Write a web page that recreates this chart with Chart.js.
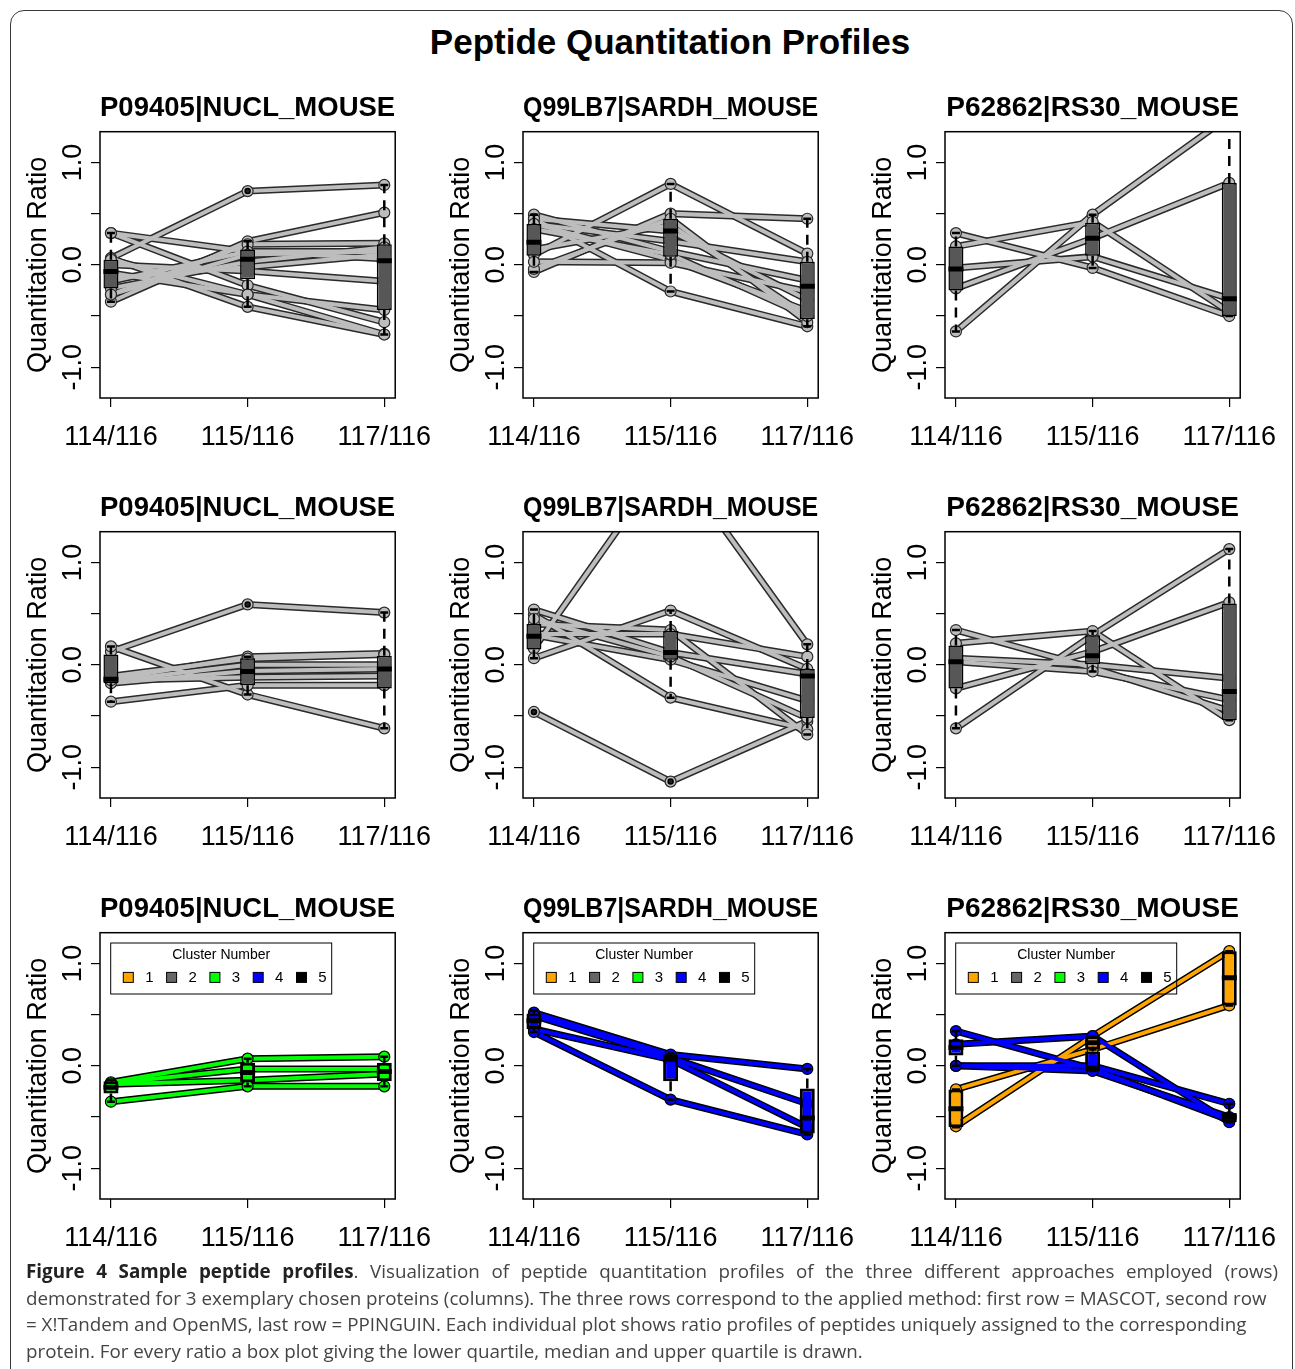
<!DOCTYPE html>
<html>
<head>
<meta charset="utf-8">
<script src="https://cdn.jsdelivr.net/npm/chart.js@4.4.0/dist/chart.umd.min.js"></script>
<style>
  body { margin: 0; background: #fff; width: 1295px; height: 1369px; position: relative; overflow: hidden;
         font-family: "Liberation Sans", Arial, sans-serif; }
  #frame { position: absolute; left: 10px; top: 10px; width: 1281px; height: 1372px;
           border: 1.5px solid #3a3a3a; border-radius: 14px; }
  #title { position: absolute; left: 0; width: 1340px; top: 22px; line-height: 40px;
           text-align: center; font-weight: bold; font-size: 35px; color: #000; }
  .panel { position: absolute; width: 437px; height: 400px; }
  #caption { position: absolute; left: 26px; width: 1252px; top: 1258px; color: #444;
             font-family: "Open Sans", "Noto Sans", sans-serif; font-size: 18.8px; line-height: 26.7px; }
  #caption div { white-space: nowrap; }
  #caption .first { text-align: justify; text-align-last: justify; white-space: normal; }
  #caption b { color: #222; }
</style>
</head>
<body>
<div id="frame"></div>
<div id="title">Peptide Quantitation Profiles</div>
<div id="grid"></div>
<div id="caption">
  <div class="first"><b>Figure 4 Sample peptide profiles</b>. Visualization of peptide quantitation profiles of the three different approaches employed (rows)</div>
  <div>demonstrated for 3 exemplary chosen proteins (columns). The three rows correspond to the applied method: first row = MASCOT, second row</div>
  <div>= X!Tandem and OpenMS, last row = PPINGUIN. Each individual plot shows ratio profiles of peptides uniquely assigned to the corresponding</div>
  <div>protein. For every ratio a box plot giving the lower quartile, median and upper quartile is drawn.</div>
</div>
<script>
// categories
const ratios = ['114/116', '115/116', '117/116'];
const proteins = ['P09405|NUCL_MOUSE', 'Q99LB7|SARDH_MOUSE', 'P62862|RS30_MOUSE'];
const yTicks = [-1, -0.5, 0, 0.5, 1];
const yLabels = [-1, 0, 1];
const clusterLabels = ['1', '2', '3', '4', '5'];
const clusterColors = ['#ffa500', '#666666', '#00ff00', '#0000ff', '#000000'];

// peptide profiles, one row per peptide: [114/116, 115/116, 117/116]
const nuclMascot = [
  [0.065, 0.72, 0.78], [0.31, -0.2, -0.56], [0.31, 0.13, 0.06], [0.065, -0.41, -0.68],
  [-0.36, 0.23, 0.51], [-0.29, 0.2, 0.21], [-0.23, 0.03, 0.17], [-0.16, 0.13, 0.13],
  [-0.08, -0.29, -0.44], [0.0, -0.06, -0.16], [-0.29, 0.1, 0.13], [-0.13, -0.02, 0.1],
  [0.05, -0.29, -0.68]
];
const sardhMascot = [
  [0.1, 0.79, 0.11], [-0.07, 0.5, 0.45], [0.45, -0.26, -0.6], [0.49, 0.13, -0.15],
  [0.4, 0.05, -0.45], [-0.04, 0.45, -0.56], [0.03, 0.02, -0.26], [0.15, 0.39, -0.5],
  [0.45, 0.33, -0.34], [0.4, 0.23, 0.03], [0.35, 0.1, -0.5]
];
const rs30Mascot = [
  [-0.65, 0.49, 1.45], [-0.23, 0.26, 0.8], [0.18, 0.42, -0.46], [0.31, -0.03, -0.5], [-0.03, 0.08, -0.33]
];
const nuclTandem = [
  [0.13, 0.59, 0.51], [0.18, -0.29, -0.62], [-0.36, -0.2, -0.2], [-0.14, 0.08, 0.11],
  [-0.11, 0.06, 0.1], [-0.16, 0.0, 0.0], [-0.18, -0.06, -0.04], [-0.15, -0.12, -0.11]
];
const sardhTandem = [
  [0.16, 2.05, 0.2], [-0.46, -1.14, -0.55], [0.49, -0.32, -0.63], [0.065, 0.53, -0.04],
  [0.54, 0.12, -0.09], [0.4, 0.34, -0.68], [0.29, 0.05, -0.35], [0.45, 0.08, -0.52], [0.3, 0.3, 0.08]
];
const rs30Tandem = [
  [-0.62, 0.29, 1.13], [-0.23, 0.13, 0.61], [0.21, 0.33, -0.54], [0.34, -0.03, -0.45],
  [0.065, 0.0, -0.13], [0.03, -0.065, -0.34]
];
const nuclPpinguin3 = [[-0.16, 0.07, 0.09], [-0.17, -0.03, -0.03], [-0.18, -0.14, -0.08], [-0.35, -0.2, -0.2]];
const sardhPpinguin4 = [[0.52, 0.11, -0.03], [0.49, 0.08, -0.37], [0.36, 0.06, -0.6], [0.33, -0.33, -0.67]];
const rs30Ppinguin1 = [[-0.59, 0.29, 1.12], [-0.23, 0.16, 0.59]];
const rs30Ppinguin4 = [[0.34, -0.03, -0.53], [0.21, 0.29, -0.55], [0.0, 0.0, -0.37], [0.0, -0.05, -0.5]];

// box plots per ratio: [lower whisker, lower quartile, median, upper quartile, upper whisker]
const nuclMascotBox = [[-0.36, -0.23, -0.065, 0.05, 0.31], [-0.41, -0.14, 0.055, 0.15, 0.23], [-0.68, -0.44, 0.04, 0.2, 0.78]];
const sardhMascotBox = [[-0.07, 0.09, 0.22, 0.4, 0.49], [-0.26, 0.08, 0.33, 0.45, 0.79], [-0.6, -0.53, -0.21, 0.03, 0.45]];
const rs30MascotBox = [[-0.65, -0.25, -0.04, 0.18, 0.31], [-0.03, 0.09, 0.26, 0.41, 0.49], [-0.5, -0.5, -0.33, 0.8, 1.45]];
const nuclTandemBox = [[-0.36, -0.18, -0.14, 0.1, 0.18], [-0.29, -0.2, -0.065, 0.065, 0.08], [-0.62, -0.23, -0.04, 0.09, 0.51]];
const sardhTandemBox = [[0.065, 0.15, 0.28, 0.4, 0.54], [-0.32, 0.05, 0.12, 0.33, 0.53], [-0.68, -0.52, -0.11, -0.04, 0.2]];
const rs30TandemBox = [[-0.62, -0.23, 0.03, 0.19, 0.34], [-0.065, 0.0, 0.09, 0.29, 0.33], [-0.54, -0.54, -0.26, 0.6, 1.13]];
const nuclPpinguin3Box = [[-0.35, -0.27, -0.21, -0.15, -0.14], [-0.2, -0.16, -0.065, 0.03, 0.07], [-0.2, -0.15, -0.055, 0.03, 0.09]];
const sardhPpinguin4Box = [[0.33, 0.36, 0.44, 0.51, 0.54], [-0.33, -0.15, 0.065, 0.11, 0.11], [-0.67, -0.66, -0.51, -0.22, -0.03]];
const rs30Ppinguin1Box = [[-0.6, -0.6, -0.42, -0.23, -0.23], [0.16, 0.16, 0.225, 0.29, 0.29], [0.59, 0.59, 0.86, 1.12, 1.12]];
const rs30Ppinguin4Box = [[0.0, 0.1, 0.18, 0.26, 0.34], [-0.05, -0.05, -0.02, 0.14, 0.29], [-0.55, -0.55, -0.5, -0.46, -0.37]];

// outlying points [ratio index (1-3), value]
const nuclMascotOut = [[2, 0.72]];
const nuclTandemOut = [[2, 0.59]];
const sardhTandemOut = [[1, -0.46], [2, -1.14]];

const panels = [
  { protein: 0, groups: [{ lines: nuclMascot, boxes: nuclMascotBox }], outliers: nuclMascotOut },
  { protein: 1, groups: [{ lines: sardhMascot, boxes: sardhMascotBox }] },
  { protein: 2, groups: [{ lines: rs30Mascot, boxes: rs30MascotBox }] },
  { protein: 0, groups: [{ lines: nuclTandem, boxes: nuclTandemBox }], outliers: nuclTandemOut },
  { protein: 1, groups: [{ lines: sardhTandem, boxes: sardhTandemBox }], outliers: sardhTandemOut },
  { protein: 2, groups: [{ lines: rs30Tandem, boxes: rs30TandemBox }] },
  { protein: 0, groups: [{ lines: nuclPpinguin3, boxes: nuclPpinguin3Box, cluster: 2 }], legend: true },
  { protein: 1, groups: [{ lines: sardhPpinguin4, boxes: sardhPpinguin4Box, cluster: 3 }], legend: true },
  { protein: 2, groups: [{ lines: rs30Ppinguin4, boxes: rs30Ppinguin4Box, cluster: 3 },
                         { lines: rs30Ppinguin1, boxes: rs30Ppinguin1Box, cluster: 0 }], legend: true }
];

const FONT = '"Liberation Sans", Arial, sans-serif';

// box frame, R style rotated y labels and the cluster legend
const panelFrame = {
  id: 'panelFrame',
  afterDraw(chart, args, opts) {
    const { ctx, chartArea: a, scales: { y } } = chart;
    ctx.save();
    ctx.strokeStyle = '#000';
    ctx.lineWidth = 1.5;
    ctx.strokeRect(a.left, a.top, a.right - a.left, a.bottom - a.top);

    ctx.fillStyle = '#000';
    ctx.font = '27px ' + FONT;
    ctx.textAlign = 'center';
    ctx.textBaseline = 'middle';
    yLabels.forEach(v => {
      ctx.save();
      ctx.translate(a.left - 26, y.getPixelForValue(v));
      ctx.rotate(-Math.PI / 2);
      ctx.fillText(v.toFixed(1), 0, 0);
      ctx.restore();
    });

    if (opts.legend) {
      const lx = a.left + 10.7, ly = a.top + 10.3;
      ctx.lineWidth = 1;
      ctx.strokeRect(lx, ly, 221, 51);
      ctx.font = '14px ' + FONT;
      ctx.fillText('Cluster Number', lx + 110.5, ly + 12);
      clusterLabels.forEach((lab, i) => {
        const bx = lx + 12.6 + i * 43.3;
        ctx.fillStyle = clusterColors[i];
        ctx.fillRect(bx, ly + 29.4, 10, 10);
        ctx.strokeRect(bx, ly + 29.4, 10, 10);
        ctx.fillStyle = '#000';
        ctx.font = '15px ' + FONT;
        ctx.fillText(lab, bx + 26, ly + 34.6);
      });
    }
    ctx.restore();
  }
};

function buildDatasets(p) {
  const sets = [];
  p.groups.forEach(g => {
    const grey = g.cluster === undefined;
    const fill = grey ? '#bdbdbd' : clusterColors[g.cluster];
    const edge = grey ? '#2a2a2a' : '#000';
    const boxFill = grey ? '#575757' : clusterColors[g.cluster];

    g.lines.forEach(v => {
      const pts = v.map((y, i) => ({ x: i + 1, y }));
      sets.push({ type: 'line', data: pts, borderColor: edge, borderWidth: 7, pointRadius: 0, order: 7 });
      sets.push({ type: 'line', data: pts, borderColor: fill, borderWidth: 4, pointRadius: 0, order: 6 });
    });
    sets.push({
      type: 'scatter', data: g.lines.flatMap(v => v.map((y, i) => ({ x: i + 1, y }))),
      pointRadius: 5.5, backgroundColor: fill, borderColor: edge, borderWidth: 1.2, order: 5
    });

    g.boxes.forEach((b, i) => {
      const x = i + 1;
      const whisker = (from, to) => ({
        type: 'line', data: [{ x, y: from }, { x, y: to }], borderColor: '#000', borderWidth: 2.5,
        borderDash: [10, 7], pointStyle: 'line', pointRadius: [0, 4], pointBorderWidth: 2.5,
        pointBorderColor: '#000', pointBackgroundColor: '#000', order: 4
      });
      sets.push(whisker(b[1], b[0]));
      sets.push(whisker(b[3], b[4]));
    });
    sets.push({
      type: 'bar', data: g.boxes.map((b, i) => ({ x: i + 1, y: [b[1], b[3]] })),
      backgroundColor: boxFill, borderColor: '#000', borderWidth: grey ? 1.5 : 3,
      borderSkipped: false, grouped: false, maxBarThickness: 15, order: 3
    });
    sets.push({
      type: 'scatter', data: g.boxes.map((b, i) => ({ x: i + 1, y: b[2] })),
      pointStyle: 'line', pointRadius: 7.5, borderColor: '#000', borderWidth: 5, order: 2
    });
  });
  if (p.outliers) {
    sets.push({
      type: 'scatter', data: p.outliers.map(o => ({ x: o[0], y: o[1] })),
      pointRadius: 2.5, backgroundColor: '#222', borderColor: '#000', borderWidth: 1.5, order: 4.5
    });
  }
  return sets;
}

const grid = document.getElementById('grid');
panels.forEach((p, k) => {
  const col = k % 3, row = Math.floor(k / 3);
  const canvas = document.createElement('canvas');
  canvas.className = 'panel';
  canvas.width = 437;
  canvas.height = 400;
  canvas.style.left = (10 + col * 422.5) + 'px';
  canvas.style.top = (82 + row * 400.3) + 'px';
  grid.appendChild(canvas);

  new Chart(canvas.getContext('2d'), {
    type: 'scatter',
    data: { datasets: buildDatasets(p) },
    options: {
      responsive: false,
      animation: false,
      events: [],
      layout: { padding: { left: 0, right: 50, top: 0, bottom: 0 } },
      plugins: {
        legend: { display: false },
        tooltip: { enabled: false },
        title: {
          display: true, text: proteins[p.protein], fullSize: false, color: '#000',
          font: { family: FONT, size: 28, weight: 'bold' }, padding: { top: 9.2, bottom: 6.9 }
        },
        panelFrame: { legend: !!p.legend }
      },
      scales: {
        x: {
          type: 'linear', min: 0.92, max: 3.08, offset: false,
          afterBuildTicks: s => { s.ticks = [1, 2, 3].map(v => ({ value: v })); },
          afterFit: s => { s.height = 84; },
          ticks: { callback: v => ratios[v - 1], color: '#000', font: { family: FONT, size: 27 },
                   padding: 14, maxRotation: 0, autoSkip: false },
          grid: { offset: false, drawOnChartArea: false, drawTicks: true, tickLength: 9, color: '#000', lineWidth: 1.2 },
          border: { display: false }
        },
        y: {
          type: 'linear', min: -1.3, max: 1.3,
          afterBuildTicks: s => { s.ticks = yTicks.map(v => ({ value: v })); },
          afterFit: s => { s.width = 90; },
          ticks: { display: false },
          grid: { drawOnChartArea: false, drawTicks: true, tickLength: 9, color: '#000', lineWidth: 1.2 },
          border: { display: false },
          title: { display: true, text: 'Quantitation Ratio', color: '#000',
                   font: { family: FONT, size: 27 }, padding: { top: 12.8, bottom: 0 } }
        }
      }
    },
    plugins: [panelFrame]
  });
});
</script>
</body>
</html>
